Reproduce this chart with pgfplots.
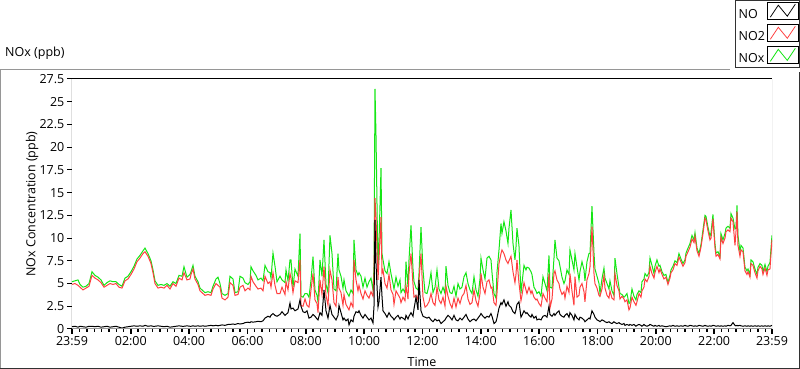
\documentclass[border=0pt]{standalone}
\usepackage{fontspec}
\setmainfont{Open Sans}
\usepackage{pgfplots}
\usepackage{pgfplotstable}
\pgfplotsset{compat=1.18}
\definecolor{noxgreen}{RGB}{20,230,20}
\definecolor{no2red}{RGB}{255,64,64}
\definecolor{frlight}{RGB}{150,150,150}
\definecolor{frdark}{RGB}{50,50,50}
\pgfplotstableread{
px NO NO2 NOx
72 0.25 4.9 5.2
75 0.3 5.0 5.3
78 0.2 4.8 5.4
80 0.3 4.6 4.9
83 0.25 4.3 4.6
86 0.2 4.5 4.7
89 0.3 4.7 5.0
92 0.3 5.9 6.3
95 0.25 5.6 5.9
98 0.3 5.4 5.7
101 0.2 5.1 5.4
104 0.25 4.6 4.8
107 0.3 4.8 5.1
110 0.2 5.0 5.3
113 0.25 4.9 5.2
116 0.3 5.0 5.2
119 0.2 4.6 4.9
122 0.1 4.5 4.7
125 0.2 5.3 5.6
128 0.25 5.5 5.8
131 0.3 6.0 6.3
134 0.35 6.6 6.9
137 0.3 7.4 7.7
140 0.35 7.8 8.1
143 0.3 8.3 8.6
145 0.4 8.5 8.9
148 0.3 8.0 8.3
151 0.35 7.2 7.5
153 0.3 6.2 6.5
155 0.3 5.0 5.3
158 0.35 4.5 4.8
161 0.3 4.6 4.9
164 0.25 4.5 4.8
167 0.3 4.8 5.0
170 0.2 4.4 4.7
173 0.25 5.0 5.2
176 0.3 4.7 5.0
179 0.35 5.6 5.9
182 0.3 5.4 5.8
184 0.3 6.2 6.85
187 0.35 5.4 5.7
190 0.3 5.5 6.0
191 0.3 6.0 6.3
193 0.35 6.6 7.0
195 0.3 5.5 5.8
198 0.35 4.9 5.2
200 0.3 4.2 4.5
203 0.35 3.9 4.2
205 0.3 3.7 4.0
208 0.35 3.8 4.1
211 0.4 3.7 4.0
213 0.35 4.4 4.7
216 0.4 5.0 5.5
218 0.35 4.8 5.7
220 0.4 4.6 5.0
222 0.45 3.4 3.9
225 0.4 3.2 3.7
228 0.5 3.5 3.9
230 0.5 5.1 5.8
233 0.55 4.8 5.5
235 0.5 3.7 4.0
238 0.6 3.8 4.1
240 0.55 4.6 5.8
243 0.6 4.8 5.6
245 0.7 4.2 5.1
248 0.75 4.5 4.9
250 0.7 4.3 5.2
251 0.8 5.8 6.85
253 0.75 5.2 6.4
256 0.8 4.7 5.9
258 0.85 4.4 5.4
261 0.8 4.5 5.6
263 0.9 4.2 5.3
265 1.2 5.8 7.0
268 1.4 5.0 6.3
270 1.3 5.2 6.2
271 1.5 4.6 5.6
273 1.7 6.2 8.35
275 1.5 4.8 6.9
277 1.4 3.9 5.2
280 1.6 3.9 5.8
282 1.9 4.6 5.4
285 1.5 3.8 5.1
286 1.6 5.2 6.5
288 1.8 4.3 5.3
290 2.85 6.1 7.6
291 2.2 5.6 7.6
293 2.3 4.0 4.6
295 2.0 5.3 6.6
298 2.2 5.1 5.8
300 3.2 7.6 10.5
301 2.5 2.6 3.6
303 1.9 2.5 3.5
305 1.8 3.3 3.9
307 2.0 2.6 3.9
309 1.2 2.4 3.5
311 1.3 4.3 5.4
313 1.6 6.1 7.95
315 1.4 3.2 4.3
317 1.1 2.8 3.7
318 1.0 1.8 3.0
320 1.8 5.4 7.6
322 1.5 3.8 5.8
324 4.3 6.85 9.8
326 2.0 3.7 4.9
328 1.2 2.6 4.0
330 2.6 6.5 10.3
332 1.6 5.4 8.3
334 1.3 2.9 4.4
336 1.0 2.5 4.2
338 1.5 5.7 8.3
339 2.6 4.5 6.5
341 1.8 4.0 5.8
343 1.0 2.6 4.5
344 1.2 3.8 5.4
346 0.9 2.7 4.2
348 1.1 2.3 3.8
349 0.45 2.1 3.6
351 1.0 2.9 4.3
353 0.8 2.4 3.9
354 1.4 7.6 9.8
356 1.9 5.4 6.5
358 1.8 4.2 5.9
359 2.0 4.8 6.2
361 1.5 3.9 5.8
363 1.2 3.3 4.6
365 1.6 4.2 5.6
367 1.3 3.7 4.6
369 1.0 3.4 5.2
371 1.2 4.1 5.6
373 0.66 3.6 4.3
374 2.5 6.0 6.8
375 12.0 14.4 26.4
376 7.2 12.3 21.3
378 2.4 5.4 6.3
379 3.0 7.6 9.5
381 5.7 12.3 17.7
382 3.6 6.1 8.3
383 2.0 6.5 7.6
385 1.7 5.0 6.4
387 1.3 4.5 6.1
389 1.8 6.0 7.4
391 1.4 4.3 6.1
393 1.2 3.8 5.0
394 1.0 2.7 4.4
396 1.3 4.2 5.7
398 1.5 3.8 4.7
400 1.1 3.4 5.4
401 1.3 2.9 4.0
403 1.2 3.5 4.4
405 1.0 3.1 4.0
406 1.5 4.8 7.4
408 1.1 3.3 4.6
409 1.4 6.1 7.6
411 1.8 8.3 11.4
413 1.4 4.9 6.6
414 2.2 3.5 5.2
416 3.5 3.7 4.5
418 2.1 3.2 4.3
419 5.4 5.4 6.1
421 2.0 8.3 11.2
423 1.4 3.5 6.5
425 1.3 2.4 4.0
427 1.2 2.6 3.9
429 1.3 3.0 4.8
431 1.0 3.9 6.2
433 0.8 2.9 4.0
435 1.1 2.6 4.6
437 0.9 4.6 6.5
439 1.0 3.2 4.4
441 0.6 2.8 3.9
443 0.8 3.5 4.6
445 1.0 2.5 3.9
446 1.2 4.7 6.9
448 1.5 3.6 4.8
450 1.3 2.8 4.0
452 1.0 2.3 3.9
454 1.5 3.4 4.7
456 1.0 2.4 3.6
458 0.9 3.4 5.0
460 1.2 2.8 4.4
462 1.0 3.6 4.6
464 1.3 3.9 5.75
466 1.6 4.8 6.2
468 1.1 3.3 5.0
470 0.8 2.7 4.3
472 1.0 2.9 3.9
474 1.1 4.3 5.75
476 0.9 3.1 4.3
478 1.2 2.5 3.6
480 1.5 3.9 5.5
481 1.7 6.1 7.8
483 1.4 4.6 6.5
485 1.2 3.9 5.5
487 1.4 5.2 7.8
489 1.3 5.4 8.0
491 1.7 4.5 7.6
492 1.4 4.6 6.2
494 0.6 2.9 3.9
496 0.8 2.6 3.4
497 1.2 3.9 6.2
499 2.3 7.2 8.7
501 2.9 8.3 11.6
502 2.7 8.7 10.5
504 3.2 8.3 11.8
506 2.5 7.6 10.8
508 3.0 7.2 9.4
509 2.6 7.5 11.1
511 2.4 8.0 13.1
513 1.9 6.3 9.4
515 1.7 5.1 7.6
516 2.1 6.0 9.0
517 2.7 7.6 11.1
519 3.0 5.1 9.2
521 1.3 3.1 3.9
522 1.5 3.7 5.0
524 2.0 5.1 7.0
526 1.7 4.3 6.5
527 1.8 3.9 6.8
529 1.5 4.6 6.7
531 1.3 3.9 6.3
532 1.6 4.2 6.0
534 1.2 3.5 4.6
536 1.4 3.2 4.2
537 1.0 3.3 3.9
539 1.1 2.8 4.1
541 1.0 2.5 3.6
543 1.4 3.9 5.75
545 1.5 3.4 5.0
547 1.3 3.0 4.2
549 2.5 6.1 8.1
550 1.6 2.3 4.6
552 1.4 3.3 4.5
554 1.7 6.1 7.8
555 1.5 6.4 9.8
557 1.8 5.4 7.8
559 2.0 5.0 7.5
560 1.6 4.4 6.9
562 1.4 3.8 5.7
564 1.3 4.1 5.0
565 1.5 3.4 5.3
567 1.7 4.7 6.5
569 1.3 4.0 6.0
570 1.8 6.1 8.7
572 1.5 4.2 7.6
574 1.0 2.6 6.5
575 1.6 5.75 8.3
577 1.2 3.5 6.8
579 1.0 3.7 5.4
580 1.3 4.6 6.3
582 1.2 5.0 7.4
584 1.0 4.1 6.5
585 0.8 3.0 5.3
587 1.0 5.4 7.4
589 1.2 6.1 8.3
590 1.1 6.85 8.35
592 2.0 11.25 13.5
594 1.6 6.1 8.35
595 1.3 5.0 6.6
597 1.0 4.5 5.8
599 0.9 3.7 5.0
600 0.8 3.6 3.9
602 1.0 4.4 5.5
604 0.9 5.9 6.7
605 0.8 4.5 5.6
607 0.7 3.7 5.0
609 0.8 3.4 4.4
610 0.7 4.2 5.3
612 0.6 3.4 4.2
614 0.8 3.2 3.7
615 0.7 6.1 7.8
617 0.6 4.8 6.1
619 0.7 4.2 4.6
620 0.6 3.3 3.9
622 0.5 3.6 3.8
624 0.6 3.3 3.5
625 0.4 3.0 3.6
627 0.5 3.2 3.9
629 0.4 2.1 2.8
630 0.5 2.3 2.9
632 0.4 3.5 4.4
634 0.5 3.0 3.6
636 0.3 2.6 3.2
637 0.4 3.0 3.8
639 0.5 3.9 4.2
641 0.4 3.5 4.0
642 0.3 4.2 5.2
644 0.5 4.6 5.5
645 0.4 5.5 6.1
647 0.3 5.2 5.8
649 0.4 5.75 6.2
650 0.5 6.9 7.8
652 0.4 6.1 7.0
654 0.3 5.6 6.1
655 0.4 6.2 6.9
657 0.3 6.9 7.6
659 0.4 6.2 6.9
660 0.3 6.6 7.0
662 0.35 6.0 6.3
664 0.3 5.5 5.9
666 0.25 5.7 6.0
668 0.3 4.9 5.1
670 0.35 5.6 5.9
671 0.3 6.2 6.5
673 0.4 6.5 6.9
675 0.3 7.2 7.5
677 0.35 7.0 7.3
679 0.3 7.9 8.3
681 0.35 7.4 7.7
683 0.3 6.9 7.2
685 0.4 7.3 7.6
686 0.35 8.0 8.35
688 0.3 8.5 8.9
690 0.4 9.0 9.4
692 0.35 9.9 10.3
694 0.3 9.5 9.8
695 0.35 10.2 10.6
697 0.3 8.6 8.9
699 0.4 8.0 8.3
701 0.35 9.0 9.3
703 0.3 10.5 10.9
705 0.4 12.2 12.5
706 0.35 12.0 12.4
708 0.3 10.8 11.2
710 0.35 9.8 10.2
711 0.3 10.0 10.6
713 0.4 12.1 12.6
715 0.35 9.0 9.4
716 0.3 8.0 8.35
718 0.35 8.2 8.5
720 0.3 7.7 8.0
721 0.35 10.1 10.5
723 0.3 9.4 9.8
725 0.35 10.0 10.5
726 0.3 10.7 11.1
728 0.4 10.9 11.3
730 0.35 10.7 11.1
731 0.4 12.2 12.7
733 0.7 11.8 12.2
735 0.4 9.2 11.0
736 0.35 10.7 11.1
737 0.4 12.9 13.6
738 0.35 9.2 10.3
740 0.4 8.0 8.5
741 0.35 8.7 9.2
743 0.3 8.5 8.9
745 0.35 6.4 6.8
747 0.3 6.0 6.4
748 0.35 6.3 6.6
750 0.3 5.7 6.0
751 0.35 7.2 7.6
753 0.3 7.0 7.4
755 0.35 6.2 6.6
757 0.3 5.6 6.0
758 0.35 6.4 6.8
760 0.3 6.9 7.2
762 0.35 6.6 7.0
763 0.3 6.0 6.3
765 0.35 6.7 7.1
767 0.3 5.9 6.3
768 0.35 6.5 6.9
770 0.3 6.6 7.3
772 0.4 9.8 10.3
}\datatable
\begin{document}
\begin{tikzpicture}
\path[use as bounding box] (-72pt,-40pt) rectangle (728pt,329pt);
% outer panel frame
\draw[frlight, line width=1pt] (-71.5pt,-39pt) -- (-71.5pt,259.5pt) -- (658pt,259.5pt);
\draw[frdark, line width=1pt] (-72pt,-39.5pt) -- (727.5pt,-39.5pt) -- (727.5pt,257pt);
\begin{axis}[
  at={(0pt,0pt)}, anchor=south west,
  scale only axis, width=700pt, height=250pt,
  xmin=-0.016667, xmax=23.983333,
  ymin=0, ymax=27.5,
  axis line style={draw=none},
  clip=true,
  xtick={-0.016667,2,4,6,8,10,12,14,16,18,20,22,23.983333},
  xticklabels={23:59,02:00,04:00,06:00,08:00,10:00,12:00,14:00,16:00,18:00,20:00,22:00,23:59},
  minor xtick={0.25,0.5,...,23.8},
  ytick={0,2.5,...,27.5},
  tick align=outside,
  xtick pos=bottom, ytick pos=left,
  major tick length=5pt, minor tick length=3pt,
  every major tick/.style={black, line width=1pt},
  every minor tick/.style={black, line width=0.8pt},
  x tick style={line width=1.4pt},
  /pgf/number format/assume math mode=true,
  tick label style={font=\fontsize{12.5}{15}\selectfont, black},
  xticklabel style={inner sep=2.5pt},
  yticklabel style={inner sep=2.5pt},
  xlabel={Time},
  xlabel style={at={(axis description cs:0.5,0)}, anchor=center, yshift=-33pt, font=\fontsize{12.5}{15}\selectfont},
  ylabel={NOx Concentration (ppb)},
  ylabel style={at={(axis description cs:-0.0571,0.5)}, anchor=center, font=\fontsize{12.5}{15}\selectfont},
  title={NOx (ppb)},
  title style={at={(axis description cs:0,1)}, anchor=west, xshift=-67pt, yshift=20pt, inner sep=0pt, font=\fontsize{12.5}{15}\selectfont},
  legend plot pos=right,
  legend cell align=left,
  reverse legend,
  legend style={at={(axis description cs:1.04,1.316)}, anchor=north east,
    draw=frdark, line width=0.8pt, fill=white, font=\fontsize{12.5}{15}\selectfont,
    inner xsep=1pt, inner ysep=1.5pt, row sep=2pt},
  legend image code/.code={
    \draw[black, line width=0.6pt, fill=white] (0pt,-4.5pt) rectangle (31pt,12.5pt);
    \draw[#1, line width=0.8pt] (3pt,-2.5pt) -- (11pt,9.5pt) -- (20pt,-1.5pt) -- (28pt,10.5pt);
  },
]
\addplot[noxgreen, line width=1pt] table[x expr=(\thisrow{px}-72)*24/700-1/60, y=NOx] {\datatable};
\addlegendentry{NOx}
\addplot[no2red, line width=1pt] table[x expr=(\thisrow{px}-72)*24/700-1/60, y=NO2] {\datatable};
\addlegendentry{NO2}
\addplot[black, line width=1pt] table[x expr=(\thisrow{px}-72)*24/700-1/60, y=NO] {\datatable};
\addlegendentry{NO}
\draw[black, line width=1pt] (rel axis cs:0,0) -- (rel axis cs:0,1) -- (rel axis cs:1,1);
\draw[frlight, line width=1pt] (rel axis cs:0,0) -- (rel axis cs:1,0) -- (rel axis cs:1,1);
\end{axis}
\end{tikzpicture}
\end{document}
